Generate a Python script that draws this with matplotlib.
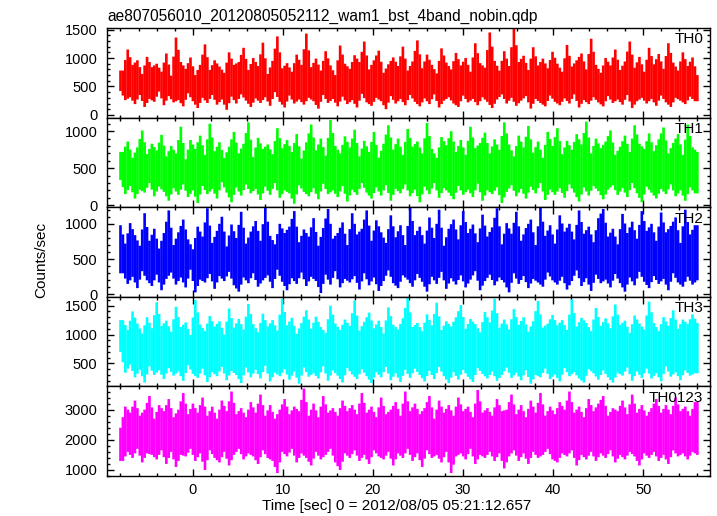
import numpy as np
import matplotlib
matplotlib.use("Agg")
import matplotlib.pyplot as plt
from matplotlib.ticker import MultipleLocator

plt.rcParams['font.family'] = ['Liberation Sans', 'DejaVu Sans']

# time bins (sec from 2012/08/05 05:21:12.657)
t_start, t_stop, n_bins = -8.0, 56.0, 240
time = np.linspace(t_start, t_stop, n_bins)

band_names = ['TH0', 'TH1', 'TH2', 'TH3', 'TH0123']
band_colors = ['#ff0000', '#00ff00', '#0000ff', '#00ffff', '#ff00ff']

th0 = [
    420, 780, 260, 1150, 310, 880, 190, 960, 350, 720, 140, 1020, 280, 840, 230, 900, 410, 760, 170, 1080,
    330, 690, 220, 1360, 260, 930, 150, 810, 380, 1010, 240, 700, 120, 880, 300, 1240, 210, 790, 350, 960,
    180, 850, 270, 740, 90, 1100, 320, 880, 200, 930, 360, 1180, 250, 790, 140, 1000, 290, 860, 210, 1270,
    310, 720, 160, 950, 400, 1380, 230, 820, 130, 910, 340, 760, 200, 1060, 270, 880, 180, 1430, 300, 840,
    240, 990, 110, 780, 350, 1120, 210, 870, 280, 700, 150, 1220, 320, 900, 190, 810, 260, 1050, 130, 930,
    370, 1290, 220, 800, 160, 960, 300, 1130, 240, 740, 100, 890, 330, 1010, 200, 860, 280, 1200, 170, 780,
    350, 940, 230, 1310, 150, 820, 290, 1060, 190, 880, 360, 730, 130, 1170, 250, 920, 310, 800, 200, 1090,
    140, 870, 340, 1000, 220, 760, 280, 1260, 170, 910, 310, 830, 230, 1450, 120, 950, 270, 780, 360, 1120,
    200, 860, 300, 1520, 160, 930, 250, 1040, 330, 790, 110, 1190, 280, 870, 210, 990, 150, 820, 340, 1110,
    230, 900, 170, 760, 290, 1230, 200, 850, 360, 960, 130, 1080, 260, 800, 190, 1340, 310, 880, 220, 740,
    150, 1000, 330, 870, 210, 1150, 270, 790, 180, 940, 350, 1290, 120, 830, 240, 1020, 300, 760, 200, 1180,
    280, 890, 160, 1070, 340, 810, 220, 1260, 140, 920, 300, 780, 250, 1100, 190, 860, 320, 1010, 240, 700,
]
th1 = [
    340, 720, 150, 860, 260, 640, 90, 780, 210, 1010, 170, 690, 300, 830, 120, 740, 250, 950, 180, 660,
    60, 800, 230, 700, 140, 1060, 280, 620, 110, 880, 200, 760, 30, 940, 260, 680, 150, 1100, 220, 730,
    90, 850, 310, 640, 170, 790, 40, 990, 240, 700, 130, 830, 280, 1120, 160, 650, 220, 910, 70, 760,
    250, 820, 140, 690, 300, 1040, 100, 770, 200, 880, 160, 720, 20, 960, 270, 630, 180, 850, 120, 1090,
    230, 740, 80, 900, 290, 670, 150, 1150, 200, 800, 110, 700, 260, 930, 50, 780, 210, 1020, 140, 660,
    300, 870, 170, 720, 90, 990, 240, 640, 130, 830, 270, 1080, 60, 750, 220, 900, 160, 680, 280, 1030,
    120, 790, 210, 860, 40, 700, 250, 1110, 150, 760, 300, 640, 100, 920, 230, 810, 170, 1000, 80, 720,
    260, 880, 140, 680, 210, 1060, 110, 770, 290, 840, 60, 980, 200, 700, 150, 890, 240, 750, 30, 1120,
    180, 820, 270, 660, 120, 940, 220, 780, 90, 1070, 250, 710, 160, 860, 300, 640, 70, 990, 210, 800,
    140, 1040, 230, 690, 100, 870, 280, 750, 170, 960, 50, 820, 240, 1130, 130, 700, 260, 900, 190, 770,
    80, 860, 210, 1010, 270, 680, 140, 790, 230, 940, 110, 720, 300, 1080, 160, 830, 40, 760, 250, 970,
    170, 730, 90, 890, 220, 1050, 150, 700, 280, 840, 120, 960, 200, 680, 60, 1090, 240, 780, 160, 720,
]
th2 = [
    980, 300, 720, 150, 1010, 250, 840, 90, 690, 330, 1150, 200, 760, 120, 930, 280, 650, 60, 870, 220,
    1190, 310, 700, 140, 880, 240, 1060, 100, 780, 350, 640, 30, 960, 210, 820, 170, 1220, 290, 730, 80,
    900, 260, 1100, 190, 680, 320, 990, 130, 800, 40, 1170, 240, 720, 160, 890, 300, 1040, 110, 760, 200,
    1230, 270, 830, 90, 710, 350, 1000, 180, 870, 60, 960, 230, 1180, 150, 740, 310, 920, 120, 820, 250,
    1080, 190, 690, 20, 940, 280, 1210, 140, 790, 330, 870, 100, 1020, 220, 700, 170, 1150, 260, 850, 70,
    930, 300, 1190, 130, 760, 240, 1050, 50, 880, 190, 730, 340, 1120, 160, 810, 90, 980, 270, 700, 210,
    1240, 110, 840, 290, 960, 180, 720, 40, 1090, 250, 800, 150, 1200, 320, 690, 80, 930, 230, 1060, 140,
    780, 270, 1180, 100, 870, 210, 990, 330, 740, 60, 1130, 190, 820, 280, 950, 130, 1220, 240, 710, 170,
    1010, 30, 860, 300, 1170, 150, 760, 260, 940, 90, 1060, 220, 700, 170, 1230, 110, 830, 310, 980, 200,
    720, 140, 1120, 250, 890, 70, 1000, 190, 780, 340, 1190, 120, 860, 230, 960, 50, 740, 280, 1080, 160,
    1210, 210, 820, 100, 930, 290, 710, 160, 1140, 40, 870, 240, 1030, 130, 790, 320, 1180, 180, 900, 90,
    1000, 260, 760, 150, 1160, 220, 880, 60, 970, 300, 1090, 170, 730, 110, 1200, 250, 850, 140, 980, 200,
]
th3 = [
    700, 1250, 340, 1080, 480, 1400, 260, 1190, 390, 1020, 170, 1300, 450, 1110, 300, 1560, 380, 1150, 230, 1240,
    420, 1050, 290, 1480, 360, 1130, 200, 1210, 470, 990, 320, 1600, 250, 1170, 410, 1060, 180, 1320, 350, 1140,
    280, 1230, 440, 1000, 210, 1450, 370, 1120, 300, 1270, 160, 1090, 430, 1530, 260, 1180, 390, 1040, 240, 1360,
    460, 1140, 190, 1250, 340, 1070, 280, 1620, 400, 1160, 220, 1290, 360, 1010, 150, 1200, 430, 1420, 270, 1100,
    330, 1310, 240, 1130, 450, 1030, 200, 1500, 380, 1190, 290, 1080, 170, 1260, 420, 1150, 310, 1590, 230, 1070,
    400, 1220, 280, 1380, 160, 1110, 350, 1240, 260, 1020, 440, 1470, 210, 1170, 330, 1090, 180, 1280, 390, 1640,
    250, 1130, 410, 1200, 300, 1060, 190, 1350, 370, 1160, 230, 1550, 440, 1080, 280, 1230, 160, 1140, 350, 1300,
    220, 1510, 390, 1100, 270, 1270, 180, 1180, 420, 1040, 320, 1390, 240, 1210, 360, 1620, 200, 1120, 300, 1260,
    430, 1090, 250, 1440, 340, 1170, 210, 1300, 380, 1050, 150, 1230, 300, 1580, 260, 1120, 410, 1190, 230, 1340,
    310, 1160, 190, 1250, 420, 1080, 280, 1610, 350, 1140, 240, 1290, 170, 1200, 400, 1060, 330, 1460, 220, 1150,
    380, 1280, 260, 1110, 170, 1520, 340, 1170, 290, 1240, 430, 1030, 200, 1330, 360, 1190, 250, 1090, 410, 1570,
    240, 1200, 330, 1060, 190, 1300, 450, 1150, 270, 1420, 350, 1100, 210, 1260, 380, 1180, 290, 1350, 330, 1200,
]
th0123 = [
    2400, 1300, 3100, 1600, 2900, 1400, 3300, 1700, 2800, 1250, 3000, 1550, 3450, 1500, 2700, 1350, 3150, 1650, 2950, 1200,
    3350, 1600, 2750, 1100, 3000, 1500, 3550, 1450, 2850, 1700, 3200, 1300, 2900, 1550, 3400, 1000, 2800, 1650, 3100, 1400,
    2700, 1250, 3300, 1600, 2950, 1150, 3600, 1500, 2850, 1700, 3050, 1350, 2750, 1550, 3250, 1450, 2900, 1200, 3500, 1650,
    2800, 1400, 3150, 1300, 2700, 900, 3000, 1600, 3350, 1450, 2850, 1700, 3100, 1250, 2950, 1550, 3700, 1400, 2800, 1150,
    3200, 1600, 2750, 1350, 3450, 1500, 2900, 1700, 3050, 1250, 2800, 1000, 3300, 1550, 2950, 1400, 3150, 1650, 2850, 1300,
    3550, 1500, 2900, 1200, 3100, 1650, 2750, 1450, 3400, 1350, 2850, 1600, 3000, 1150, 3250, 1550, 2800, 1400, 3600, 1700,
    2950, 1300, 3200, 1550, 2850, 1100, 3050, 1650, 3450, 1400, 2700, 1500, 3300, 1250, 2900, 1600, 3150, 900, 2800, 1450,
    3400, 1550, 2950, 1350, 3100, 1700, 2750, 1200, 3650, 1500, 2900, 1400, 3050, 1600, 2800, 1300, 3350, 1550, 2950, 1050,
    3000, 1450, 3500, 1650, 2850, 1300, 3150, 1550, 2750, 1200, 3300, 1600, 2900, 1400, 3550, 1500, 2800, 1700, 3100, 1350,
    2850, 1250, 3250, 1550, 3000, 1450, 3600, 1650, 2900, 1150, 3100, 1500, 2750, 1350, 3350, 1600, 2950, 1300, 3200, 1550,
    3450, 1400, 2800, 1650, 3050, 1250, 2950, 1500, 3300, 1350, 2850, 1600, 3500, 1450, 2900, 1150, 3150, 1550, 2800, 1400,
    3050, 1600, 3350, 1300, 2900, 1500, 3150, 1200, 2850, 1650, 3400, 1450, 2950, 1550, 3100, 1350, 2800, 1600, 3250, 1500,
]
band_data = [th0, th1, th2, th3, th0123]

# axis ranges / ticks per panel
y_limits = [(-48, 1528), (-27, 1183), (-33, 1235), (103, 1653), (800, 3770)]
y_major = [500, 500, 500, 500, 1000]
y_minor = [100, 100, 100, 100, 200]

fig, axes = plt.subplots(5, 1, sharex=True, figsize=(7.17, 5.16), dpi=100)
fig.subplots_adjust(left=0.1492, right=0.9902, top=0.9457, bottom=0.0775, hspace=0)

for i, ax in enumerate(axes):
    v = np.asarray(band_data[i], dtype=float)
    # one vertical stroke per bin: from the bin value to the mean of its neighbours
    nb = np.empty_like(v)
    nb[1:-1] = 0.5 * (v[:-2] + v[2:])
    nb[0], nb[-1] = v[1], v[-2]
    ax.vlines(time, np.minimum(v, nb), np.maximum(v, nb),
              colors=band_colors[i], lw=1.9, snap=False)
    ax.set_ylim(*y_limits[i])
    ax.yaxis.set_major_locator(MultipleLocator(y_major[i]))
    ax.yaxis.set_minor_locator(MultipleLocator(y_minor[i]))
    ax.xaxis.set_major_locator(MultipleLocator(10))
    ax.xaxis.set_minor_locator(MultipleLocator(2))
    ax.tick_params(which='both', direction='in', top=True, right=True, labelsize=10.5, width=1.0)
    ax.tick_params(which='major', length=5)
    ax.tick_params(which='minor', length=2.5)
    ax.tick_params(axis='y', pad=7)
    ax.tick_params(axis='x', pad=5)
    for sp in ax.spines.values():
        sp.set_linewidth(1.0)
    ax.text(0.989, 0.952, band_names[i], transform=ax.transAxes, ha='right', va='top', fontsize=11)

axes[-1].set_xlim(-9.5, 57.4)

fig.text(107 / 717, 1 - 21 / 516, 'ae807056010_20120805052112_wam1_bst_4band_nobin.qdp',
         ha='left', va='baseline', fontsize=11.2)
fig.text(41 / 717, 1 - 260 / 516, 'Counts/sec', rotation=90, ha='center', va='center', fontsize=11)
fig.text(397 / 717, 1 - 506 / 516, 'Time [sec] 0 = 2012/08/05 05:21:12.657',
         ha='center', va='center', fontsize=11)

fig.savefig('out.png', dpi=100)
